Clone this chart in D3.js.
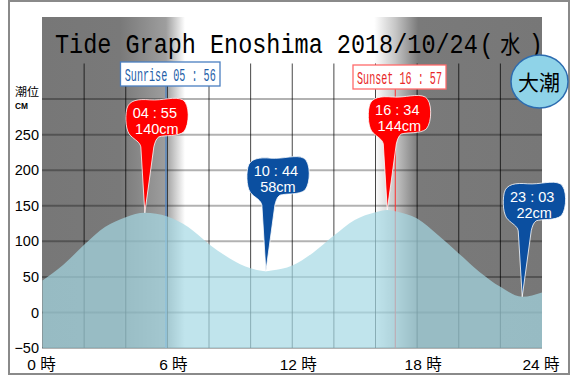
<!DOCTYPE html>
<html>
<head>
<meta charset="utf-8">
<script src="https://cdn.jsdelivr.net/npm/d3@7"></script>
<style>
  body { margin: 0; background: #fff; }
  svg { display: block; }
</style>
</head>
<body>
<svg id="chart" width="573" height="376"></svg>
<script>
// tide readings (hour of day -> cm)
const tideHours = [0, 1, 2, 3, 4, 5, 6, 7, 8, 9, 10, 11, 12, 13, 14, 15, 16, 17, 18, 19, 20, 21, 22, 23, 24];
const tideCm = [45, 67, 95, 120, 134, 139, 135, 120, 96, 76, 62, 59, 66, 84, 108, 130, 141, 142, 132, 109, 83, 57, 36, 23, 28];

const highTimes = ["04:55", "16:34"];
const highCm = [140, 144];
const lowTimes = ["10:44", "23:03"];
const lowCm = [58, 22];

const sunriseTime = "05:56";
const sunsetTime = "16:57";

const yTickValues = [-50, 0, 50, 100, 150, 200, 250];
const gridCm = [-50, 0, 50, 100, 150, 200, 250, 300];
const gridHours = [2, 4, 6, 8, 10, 12, 14, 16, 18, 20, 22];
const hourLabels = [0, 6, 12, 18, 24];

const titleText = "Tide Graph Enoshima 2018/10/24";
const weekday = "水";
const tideName = "大潮";

const toHours = (s) => {
  const [h, m] = s.split(":").map(Number);
  return h + m / 60;
};
const spaced = (s) => s.replace(":", " : ");

const svg = d3.select("#chart");

const margin = { left: 42.5, right: 542, top: 17, bottom: 348 };

const x = d3.scaleLinear().domain([0, 24]).range([margin.left, margin.right]);
const y = d3.scaleLinear().domain([-50, 350]).range([margin.bottom, 63.5]);

// outer frame
svg.append("rect")
  .attr("x", 9).attr("y", 1).attr("width", 560).attr("height", 373)
  .attr("fill", "#fff").attr("stroke", "#8a8a8a").attr("stroke-width", 2);

// night / day background gradient
const xs = x(toHours(sunriseTime));
const xe = x(toHours(sunsetTime));
const off = (px) => (px - 42) / 500;
const grad = svg.append("defs").append("linearGradient")
  .attr("id", "daylight").attr("gradientUnits", "userSpaceOnUse")
  .attr("x1", 42).attr("x2", 542).attr("y1", 0).attr("y2", 0);
[
  [42, "#777777"], [xs - 46, "#797979"], [xs, "#9e9e9e"], [xs + 19, "#ffffff"],
  [xe - 21, "#ffffff"], [xe, "#c6c6c6"], [xe + 23, "#7a7a7a"], [542, "#777777"]
].forEach(([px, c]) => grad.append("stop").attr("offset", off(px)).attr("stop-color", c));

svg.append("rect")
  .attr("x", 42).attr("y", margin.top).attr("width", 500).attr("height", margin.bottom - margin.top)
  .attr("fill", "url(#daylight)");

// grid
svg.append("g").selectAll("line").data(gridCm).join("line")
  .attr("x1", 42).attr("x2", 542)
  .attr("y1", (d) => y(d)).attr("y2", (d) => y(d))
  .attr("stroke", "#000").attr("stroke-opacity", 0.3).attr("stroke-width", 2);

svg.append("g").selectAll("line").data(gridHours).join("line")
  .attr("x1", (d) => x(d)).attr("x2", (d) => x(d))
  .attr("y1", y(350)).attr("y2", y(-50))
  .attr("stroke", "#000").attr("stroke-opacity", 0.72).attr("stroke-width", 1);

// sunrise / sunset lines
svg.append("line")
  .attr("x1", xs).attr("x2", xs).attr("y1", 86).attr("y2", y(-50))
  .attr("stroke", "#4f86c6").attr("stroke-width", 1.3);
svg.append("line")
  .attr("x1", xe).attr("x2", xe).attr("y1", 89).attr("y2", y(-50))
  .attr("stroke", "#ff3030").attr("stroke-width", 1);

// tide area (extremes merged in so the curve passes through them)
const extremes = highTimes.map((t, i) => [toHours(t), highCm[i]])
  .concat(lowTimes.map((t, i) => [toHours(t), lowCm[i]]));
const tidePoints = tideHours.map((h, i) => [h, tideCm[i]])
  .filter((p) => !extremes.some((e) => Math.abs(e[0] - p[0]) < 0.1))
  .concat(extremes)
  .sort((a, b) => a[0] - b[0]);

const area = d3.area()
  .x((d) => x(d[0]))
  .y0(y(-50))
  .y1((d) => y(d[1]))
  .curve(d3.curveMonotoneX);

svg.append("path")
  .datum(tidePoints)
  .attr("d", area)
  .attr("fill", "#a5d8e4")
  .attr("fill-opacity", 0.7);

// sunrise / sunset boxes
function timeBox(x0, y0, w, label, stroke, color, len) {
  svg.append("rect")
    .attr("x", x0).attr("y", y0).attr("width", w).attr("height", 24)
    .attr("fill", "#fff").attr("stroke", stroke).attr("stroke-width", 1.3);
  svg.append("text")
    .attr("x", x0 + w / 2).attr("y", y0 + 19)
    .attr("text-anchor", "middle")
    .attr("font-family", "Liberation Mono, DejaVu Sans Mono, monospace")
    .attr("font-size", 19)
    .attr("textLength", len).attr("lengthAdjust", "spacingAndGlyphs")
    .attr("fill", color)
    .text(label);
}
timeBox(120.5, 62, 99.5, "Sunrise  " + spaced(sunriseTime), "#4a7fc0", "#2460a8", 91);
timeBox(353, 65, 93, "Sunset  " + spaced(sunsetTime), "#ff6a6a", "#e82828", 85);

// balloons (path is relative to the tip)
const balloonPath =
  "M0,0 L-4,-66 C-5,-71 -10,-73 -14,-77 C-19,-81 -20,-95 -18,-104 " +
  "C-16,-113 -6,-114 5,-113 C18,-112 30,-117 38,-113 C45,-109 45,-88 39,-81 " +
  "C33,-76 20,-78 14,-76 C11,-74 10,-70 9,-66 Z";

function balloon(t, cm, fill) {
  const g = svg.append("g")
    .attr("transform", `translate(${x(toHours(t))},${y(cm)})`);
  g.append("path").attr("d", balloonPath)
    .attr("fill", fill).attr("stroke", "#fff").attr("stroke-width", 0.8);
  const txt = g.append("text")
    .attr("text-anchor", "middle")
    .attr("font-family", "Liberation Sans, Arial, sans-serif")
    .attr("font-size", 14.5)
    .attr("fill", "#fff");
  txt.append("tspan").attr("x", 10).attr("y", -95).text(spaced(t));
  txt.append("tspan").attr("x", 12).attr("y", -79).text(cm + "cm");
}
highTimes.forEach((t, i) => balloon(t, highCm[i], "#ff0000"));
lowTimes.forEach((t, i) => balloon(t, lowCm[i], "#0b4fa0"));

// title: narrow monospace look via horizontal scale
const title = svg.append("g")
  .attr("transform", "translate(55,53) scale(0.8393,1)")
  .append("text")
  .attr("x", 0).attr("y", 0)
  .attr("font-family", "Liberation Mono, DejaVu Sans Mono, monospace")
  .attr("font-size", 28)
  .attr("fill", "#000");
title.append("tspan").text(titleText);
title.append("tspan").attr("dx", 2).text("(");
title.append("tspan").attr("dx", 8)
  .attr("font-family", "Noto Sans CJK JP").attr("font-size", 24)
  .text(weekday);
title.append("tspan").attr("dx", 10).text(")");

// tide type badge
svg.append("ellipse")
  .attr("cx", 539.5).attr("cy", 81.5).attr("rx", 28.5).attr("ry", 26.5)
  .attr("fill", "#8fd3e8").attr("stroke", "#2c6cb0").attr("stroke-width", 1.5);
svg.append("text")
  .attr("x", 539).attr("y", 90)
  .attr("text-anchor", "middle")
  .attr("font-family", "Noto Sans CJK JP")
  .attr("font-size", 21)
  .attr("fill", "#000")
  .text(tideName);

// y axis
const yAxis = svg.append("g")
  .attr("transform", `translate(42,0)`)
  .call(d3.axisLeft(y).tickValues(yTickValues).tickSize(0).tickPadding(3));
yAxis.select(".domain").remove();
yAxis.selectAll("text")
  .attr("font-family", "Liberation Sans, Arial, sans-serif")
  .attr("font-size", 14.5)
  .attr("fill", "#000");

svg.append("text")
  .attr("x", 15).attr("y", 96)
  .attr("font-family", "Noto Sans CJK JP")
  .attr("font-size", 11)
  .attr("textLength", 24).attr("lengthAdjust", "spacingAndGlyphs")
  .text("潮位");
svg.append("text")
  .attr("x", 15).attr("y", 108.5)
  .attr("font-family", "Liberation Sans, Arial, sans-serif")
  .attr("font-size", 9.5).attr("font-weight", "bold")
  .attr("textLength", 13).attr("lengthAdjust", "spacingAndGlyphs")
  .text("CM");

// hour labels
svg.append("g").selectAll("text").data(hourLabels).join("text")
  .attr("x", (d) => x(d) + (d === 0 || d === 24 ? -1 : 6))
  .attr("y", 370)
  .attr("text-anchor", "middle")
  .attr("font-family", "Liberation Sans, Noto Sans CJK JP, sans-serif")
  .attr("font-size", 15.5)
  .attr("fill", "#000")
  .text((d) => d + " 時");
</script>
</body>
</html>
